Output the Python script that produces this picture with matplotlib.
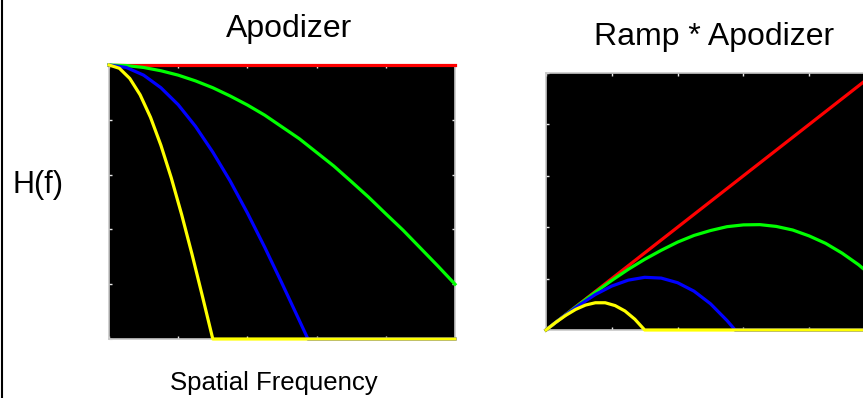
import matplotlib
matplotlib.use("Agg")
import matplotlib.pyplot as plt
from matplotlib.lines import Line2D
import numpy as np

plt.rcParams['font.family'] = ['Liberation Sans', 'DejaVu Sans']

W, H = 863, 398

# apodizer windows
f_red = [0.0, 1.0]
h_red = [1.0, 1.0]

f_green = [0.0, 0.05, 0.1, 0.15, 0.2, 0.25, 0.3, 0.35, 0.4, 0.45, 0.5,
           0.55, 0.6, 0.65, 0.7, 0.75, 0.8, 0.85, 0.9, 0.95, 1.0]
h_green = [1.0, 0.998, 0.991, 0.979, 0.963, 0.942, 0.917, 0.887, 0.854, 0.817, 0.774,
           0.731, 0.681, 0.631, 0.575, 0.518, 0.457, 0.397, 0.332, 0.267, 0.200]

f_blue = [0.0, 0.05, 0.1, 0.15, 0.2, 0.25, 0.3, 0.35, 0.4, 0.45, 0.5, 0.55, 0.575, 1.0]
h_blue = [1.0, 0.991, 0.963, 0.917, 0.855, 0.776, 0.682, 0.577, 0.460, 0.335, 0.203, 0.068, 0.0, 0.0]

f_yellow = [0.0, 0.03, 0.06, 0.09, 0.12, 0.15, 0.18, 0.21, 0.24, 0.27, 0.30, 1.0]
h_yellow = [1.0, 0.988, 0.951, 0.891, 0.809, 0.707, 0.588, 0.454, 0.309, 0.156, 0.0, 0.0]

# ramp * apodizer
r_red = [0.0, 1.0]
r_green = [0.0, 0.050, 0.099, 0.147, 0.193, 0.236, 0.275, 0.310, 0.342, 0.368, 0.387,
           0.402, 0.409, 0.410, 0.403, 0.389, 0.366, 0.337, 0.299, 0.254, 0.200]
r_blue = [0.0, 0.050, 0.096, 0.138, 0.171, 0.194, 0.205, 0.202, 0.184, 0.151, 0.102, 0.037, 0.0, 0.0]
r_yellow = [0.0, 0.030, 0.057, 0.080, 0.097, 0.106, 0.106, 0.095, 0.074, 0.042, 0.0, 0.0]

colors = ['#ff0000', '#00ff00', '#0000ff', '#ffff00']

fig = plt.figure(figsize=(W / 100, H / 100), dpi=100)


def px_axes(x0, y0, x1, y1):
    return fig.add_axes([x0 / W, 1 - y1 / H, (x1 - x0) / W, (y1 - y0) / H])


def style(ax):
    ax.set_facecolor('black')
    ax.set_xlim(0, 1)
    ax.set_ylim(0, 1)
    ax.set_xticks(np.linspace(0, 1, 6))
    ax.set_yticks(np.linspace(0, 1, 6))
    ax.set_xticklabels([])
    ax.set_yticklabels([])
    ax.tick_params(direction='in', length=2.5, width=1, color='#e8e8e8',
                   top=True, right=True)
    for s in ax.spines.values():
        s.set_color('#c8c8c8')
        s.set_linewidth(1.2)


ax1 = px_axes(109, 65, 455, 339)
style(ax1)
xs = [f_red, f_green, f_blue, f_yellow]
for f, h, c in zip(xs, [h_red, h_green, h_blue, h_yellow], colors):
    ax1.plot(f, h, color=c, lw=2.3, clip_on=False, zorder=5)

ax2 = px_axes(546, 73, 875, 330)
style(ax2)
for f, r, c in zip(xs, [r_red, r_green, r_blue, r_yellow], colors):
    ax2.plot(f, r, color=c, lw=2.3, clip_on=False, zorder=5)


def ptext(x, y, s, size, ha='center'):
    fig.text(x / W, 1 - y / H, s, fontsize=size, ha=ha, va='baseline')


ptext(289, 37, 'Apodizer', 23)
ptext(714, 45, 'Ramp * Apodizer', 23)
ptext(12, 193, 'H(f)', 22, ha='left')
ptext(274, 390, 'Spatial Frequency', 18.5)

fig.add_artist(Line2D([2 / W, 2 / W], [0, 1], color='black', lw=1.5))

fig.savefig('out.png', dpi=100)
